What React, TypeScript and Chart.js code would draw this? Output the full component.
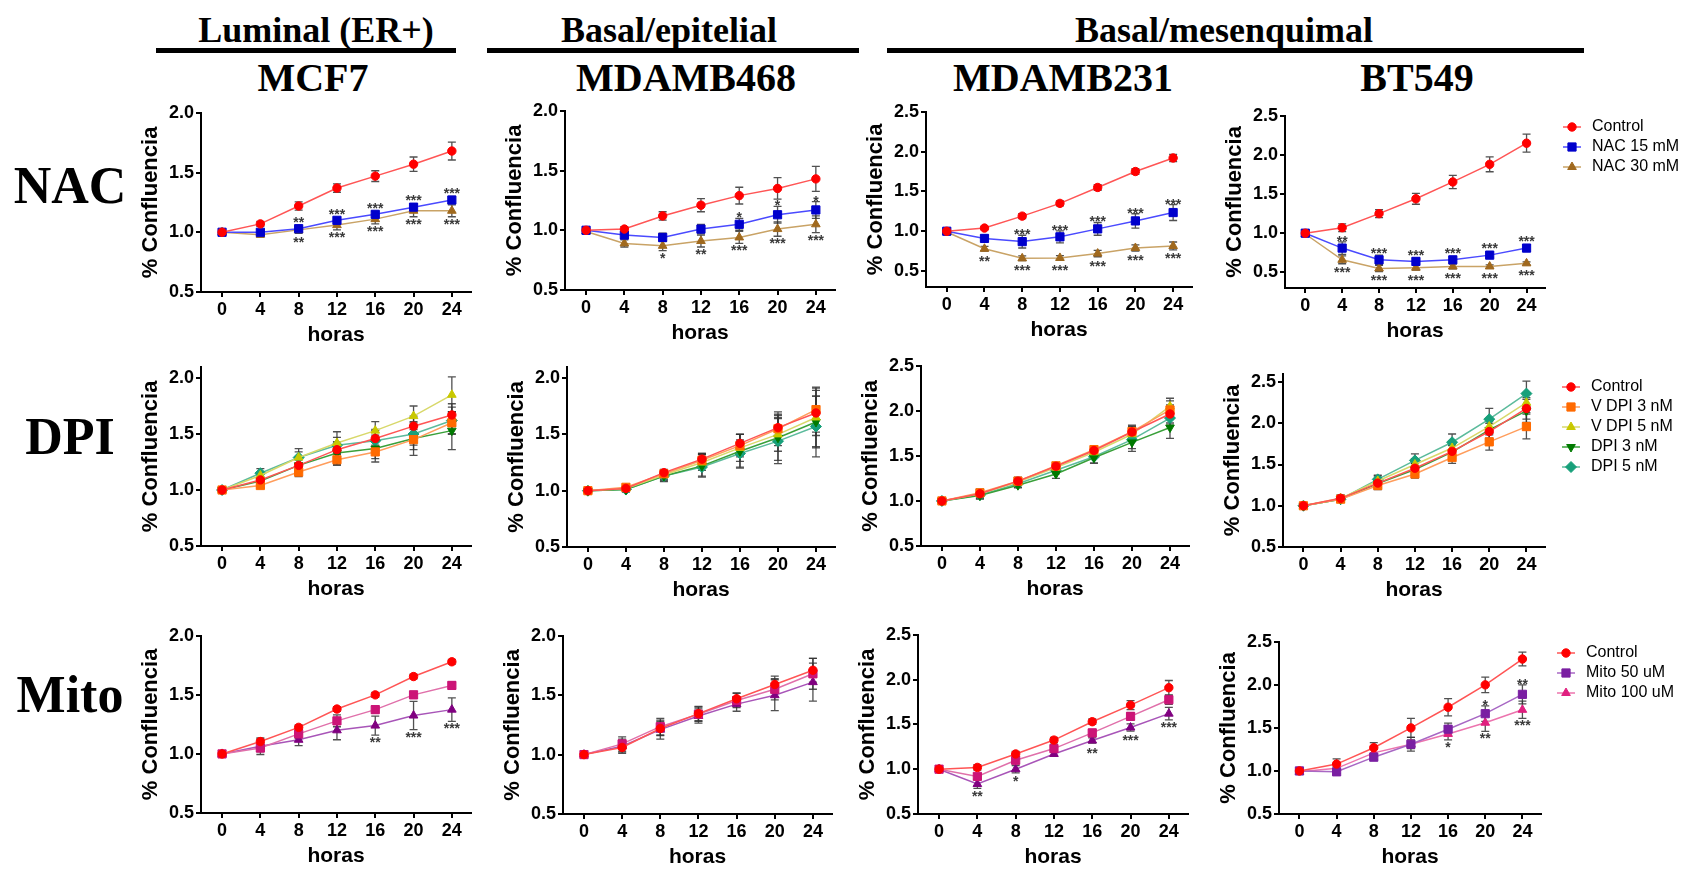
import React, { useEffect, useRef } from 'react';
import { Chart, registerables } from 'chart.js';
import { drawPoint } from 'chart.js/helpers';

Chart.register(...registerables);

// ---------- shared categories / labels ----------
const hours = [0, 4, 8, 12, 16, 20, 24];
const groupTitles = ['Luminal (ER+)', 'Basal/epitelial', 'Basal/mesenquimal'];
const cellLines = ['MCF7', 'MDAMB468', 'MDAMB231', 'BT549'];
const rowLabels = ['NAC', 'DPI', 'Mito'];
const ticks20 = [0.5, 1.0, 1.5, 2.0];
const ticks25 = [0.5, 1.0, 1.5, 2.0, 2.5];
const nacLabels = ['Control', 'NAC 15 mM', 'NAC 30 mM'];
const dpiLabels = ['Control', 'V DPI 3 nM', 'V DPI 5 nM', 'DPI 3 nM', 'DPI 5 nM'];
const mitoLabels = ['Control', 'Mito 50 uM', 'Mito 100 uM'];

// ---------- NAC row ----------
const mcf7NacCtrl = [1.0, 1.07, 1.22, 1.37, 1.47, 1.57, 1.68];
const mcf7NacCtrlErr = [0.01, 0.02, 0.035, 0.035, 0.045, 0.06, 0.075];
const mcf7Nac15 = [1.0, 1.0, 1.03, 1.1, 1.15, 1.21, 1.27];
const mcf7Nac15Err = [0.01, 0.02, 0.02, 0.025, 0.025, 0.03, 0.03];
const mcf7Nac30 = [1.0, 0.98, 1.02, 1.06, 1.11, 1.18, 1.18];
const mcf7Nac30Err = [0.01, 0.02, 0.03, 0.04, 0.04, 0.05, 0.05];
const mcf7Nac15Sig = ['', '', '**', '***', '***', '***', '***'];
const mcf7Nac30Sig = ['', '', '**', '***', '***', '***', '***'];

const m468NacCtrl = [1.0, 1.01, 1.12, 1.21, 1.29, 1.35, 1.43];
const m468NacCtrlErr = [0.01, 0.02, 0.035, 0.055, 0.07, 0.09, 0.105];
const m468Nac15 = [1.0, 0.96, 0.94, 1.01, 1.05, 1.13, 1.17];
const m468Nac15Err = [0.01, 0.03, 0.035, 0.04, 0.05, 0.07, 0.07];
const m468Nac30 = [0.99, 0.89, 0.87, 0.91, 0.94, 1.01, 1.05];
const m468Nac30Err = [0.01, 0.03, 0.04, 0.05, 0.05, 0.06, 0.07];
const m468Nac15Sig = ['', '', '', '', '*', '*', '*'];
const m468Nac30Sig = ['', '', '*', '**', '***', '***', '***'];

const m231NacCtrl = [1.0, 1.04, 1.19, 1.35, 1.55, 1.75, 1.92];
const m231NacCtrlErr = [0.01, 0.02, 0.03, 0.03, 0.035, 0.035, 0.045];
const m231Nac15 = [1.0, 0.91, 0.87, 0.93, 1.03, 1.13, 1.235];
const m231Nac15Err = [0.01, 0.04, 0.08, 0.075, 0.08, 0.09, 0.1];
const m231Nac30 = [0.99, 0.78, 0.66, 0.665, 0.72, 0.79, 0.815];
const m231Nac30Err = [0.01, 0.03, 0.03, 0.03, 0.04, 0.04, 0.05];
const m231Nac15Sig = ['', '', '***', '***', '***', '***', '***'];
const m231Nac30Sig = ['', '**', '***', '***', '***', '***', '***'];

const bt549NacCtrl = [1.0, 1.07, 1.25, 1.44, 1.655, 1.88, 2.15];
const bt549NacCtrlErr = [0.01, 0.05, 0.05, 0.07, 0.085, 0.095, 0.115];
const bt549Nac15 = [1.0, 0.81, 0.66, 0.64, 0.66, 0.72, 0.81];
const bt549Nac15Err = [0.01, 0.08, 0.06, 0.04, 0.04, 0.03, 0.04];
const bt549Nac30 = [0.99, 0.66, 0.55, 0.56, 0.575, 0.575, 0.615];
const bt549Nac30Err = [0.01, 0.05, 0.04, 0.03, 0.03, 0.02, 0.02];
const bt549Nac15Sig = ['', '**', '***', '***', '***', '***', '***'];
const bt549Nac30Sig = ['', '***', '***', '***', '***', '***', '***'];

// ---------- DPI row ----------
const mcf7DpiCtrl = [1.0, 1.09, 1.22, 1.36, 1.46, 1.57, 1.67];
const mcf7DpiCtrlErr = [0.02, 0.03, 0.06, 0.07, 0.08, 0.09, 0.1];
const mcf7DpiV3 = [1.0, 1.04, 1.16, 1.27, 1.34, 1.45, 1.6];
const mcf7DpiV3Err = [0.02, 0.02, 0.04, 0.05, 0.06, 0.09, 0.1];
const mcf7DpiV5 = [1.0, 1.13, 1.29, 1.42, 1.53, 1.66, 1.85];
const mcf7DpiV5Err = [0.02, 0.03, 0.08, 0.1, 0.08, 0.09, 0.16];
const mcf7Dpi3 = [1.0, 1.08, 1.22, 1.33, 1.37, 1.46, 1.53];
const mcf7Dpi3Err = [0.02, 0.03, 0.05, 0.1, 0.12, 0.15, 0.17];
const mcf7Dpi5 = [1.0, 1.15, 1.29, 1.4, 1.44, 1.5, 1.62];
const mcf7Dpi5Err = [0.02, 0.04, 0.05, 0.07, 0.09, 0.1, 0.12];

const m468DpiCtrl = [1.0, 1.02, 1.16, 1.28, 1.42, 1.56, 1.69];
const m468DpiCtrlErr = [0.02, 0.02, 0.03, 0.05, 0.08, 0.12, 0.2];
const m468DpiV3 = [1.0, 1.03, 1.15, 1.27, 1.4, 1.55, 1.72];
const m468DpiV3Err = [0.02, 0.02, 0.03, 0.06, 0.1, 0.15, 0.2];
const m468DpiV5 = [1.0, 1.02, 1.14, 1.25, 1.38, 1.5, 1.65];
const m468DpiV5Err = [0.02, 0.02, 0.04, 0.07, 0.12, 0.15, 0.26];
const m468Dpi3 = [1.0, 1.01, 1.13, 1.22, 1.35, 1.47, 1.61];
const m468Dpi3Err = [0.02, 0.02, 0.05, 0.1, 0.15, 0.2, 0.23];
const m468Dpi5 = [1.0, 1.01, 1.13, 1.21, 1.33, 1.44, 1.57];
const m468Dpi5Err = [0.02, 0.02, 0.04, 0.08, 0.12, 0.2, 0.27];

const m231DpiCtrl = [1.0, 1.08, 1.22, 1.385, 1.56, 1.765, 1.965];
const m231DpiCtrlErr = [0.02, 0.04, 0.04, 0.03, 0.04, 0.06, 0.1];
const m231DpiV3 = [1.0, 1.09, 1.22, 1.39, 1.57, 1.77, 2.01];
const m231DpiV3Err = [0.02, 0.04, 0.04, 0.03, 0.04, 0.07, 0.1];
const m231DpiV5 = [1.0, 1.08, 1.21, 1.37, 1.54, 1.74, 2.05];
const m231DpiV5Err = [0.02, 0.03, 0.04, 0.03, 0.05, 0.08, 0.09];
const m231Dpi3 = [1.0, 1.06, 1.175, 1.3, 1.48, 1.65, 1.815];
const m231Dpi3Err = [0.02, 0.04, 0.03, 0.05, 0.06, 0.1, 0.12];
const m231Dpi5 = [1.0, 1.065, 1.19, 1.34, 1.49, 1.68, 1.92];
const m231Dpi5Err = [0.02, 0.04, 0.04, 0.04, 0.07, 0.1, 0.08];

const bt549DpiCtrl = [1.0, 1.09, 1.275, 1.455, 1.66, 1.9, 2.18];
const bt549DpiCtrlErr = [0.02, 0.04, 0.05, 0.06, 0.08, 0.1, 0.13];
const bt549DpiV3 = [1.0, 1.08, 1.245, 1.385, 1.585, 1.775, 1.96];
const bt549DpiV3Err = [0.02, 0.03, 0.05, 0.05, 0.07, 0.1, 0.15];
const bt549DpiV5 = [1.0, 1.09, 1.3, 1.5, 1.7, 1.96, 2.25];
const bt549DpiV5Err = [0.02, 0.04, 0.06, 0.07, 0.08, 0.1, 0.12];
const bt549Dpi3 = [1.0, 1.08, 1.27, 1.44, 1.65, 1.92, 2.15];
const bt549Dpi3Err = [0.02, 0.04, 0.05, 0.07, 0.08, 0.1, 0.14];
const bt549Dpi5 = [1.0, 1.08, 1.32, 1.55, 1.77, 2.05, 2.36];
const bt549Dpi5Err = [0.02, 0.04, 0.05, 0.08, 0.1, 0.13, 0.15];

// ---------- Mito row ----------
const mcf7MitoCtrl = [1.0, 1.105, 1.225, 1.38, 1.5, 1.655, 1.78];
const mcf7MitoCtrlErr = [0.01, 0.02, 0.02, 0.02, 0.02, 0.02, 0.02];
const mcf7Mito50 = [1.0, 1.05, 1.17, 1.28, 1.375, 1.5, 1.58];
const mcf7Mito50Err = [0.01, 0.03, 0.04, 0.05, 0.03, 0.03, 0.03];
const mcf7Mito100 = [1.0, 1.065, 1.12, 1.2, 1.24, 1.325, 1.375];
const mcf7Mito100Err = [0.01, 0.07, 0.05, 0.08, 0.08, 0.12, 0.1];
const mcf7Mito100Sig = ['', '', '', '', '**', '***', '***'];

const m468MitoCtrl = [1.0, 1.06, 1.22, 1.345, 1.47, 1.59, 1.71];
const m468MitoCtrlErr = [0.01, 0.04, 0.06, 0.06, 0.05, 0.07, 0.1];
const m468Mito50 = [1.0, 1.09, 1.235, 1.34, 1.455, 1.55, 1.68];
const m468Mito50Err = [0.01, 0.06, 0.07, 0.06, 0.06, 0.09, 0.13];
const m468Mito100 = [1.0, 1.07, 1.21, 1.325, 1.425, 1.5, 1.61];
const m468Mito100Err = [0.01, 0.06, 0.08, 0.06, 0.06, 0.13, 0.16];

const m231MitoCtrl = [1.0, 1.02, 1.17, 1.325, 1.53, 1.715, 1.91];
const m231MitoCtrlErr = [0.01, 0.03, 0.03, 0.03, 0.03, 0.05, 0.08];
const m231Mito50 = [1.0, 0.92, 1.1, 1.23, 1.405, 1.59, 1.775];
const m231Mito50Err = [0.01, 0.03, 0.04, 0.03, 0.04, 0.04, 0.05];
const m231Mito100 = [1.0, 0.835, 1.0, 1.17, 1.32, 1.465, 1.62];
const m231Mito100Err = [0.01, 0.05, 0.04, 0.02, 0.03, 0.04, 0.07];
const m231Mito100Sig = ['', '**', '*', '', '**', '***', '***'];

const bt549MitoCtrl = [1.0, 1.08, 1.27, 1.5, 1.74, 2.0, 2.3];
const bt549MitoCtrlErr = [0.01, 0.06, 0.06, 0.11, 0.1, 0.09, 0.08];
const bt549Mito50 = [1.0, 0.99, 1.16, 1.31, 1.485, 1.665, 1.89];
const bt549Mito50Err = [0.02, 0.02, 0.03, 0.05, 0.07, 0.09, 0.11];
const bt549Mito100 = [0.99, 1.03, 1.21, 1.31, 1.43, 1.56, 1.71];
const bt549Mito100Err = [0.02, 0.02, 0.04, 0.08, 0.07, 0.1, 0.1];
const bt549Mito50Sig = ['', '', '', '', '', '*', '**'];
const bt549Mito100Sig = ['', '', '', '', '*', '**', '***'];

// ---------- styles ----------
type Style = { color: string; line: string; shape: string; radius: number; rotation?: number };
const stCtrl: Style = { color: '#ff0000', line: '#ff5555', shape: 'circle', radius: 4.2 };
const stNac15: Style = { color: '#0000cc', line: '#4a4aff', shape: 'rect', radius: 5.8 };
const stNac30: Style = { color: '#a0691e', line: '#c9a366', shape: 'triangle', radius: 5 };
const stV3: Style = { color: '#ff6a00', line: '#ff9d5c', shape: 'rect', radius: 5.8 };
const stV5: Style = { color: '#c8c800', line: '#d8d86a', shape: 'triangle', radius: 5 };
const stD3: Style = { color: '#007a00', line: '#3aa03a', shape: 'triangle', radius: 5, rotation: 180 };
const stD5: Style = { color: '#17a07a', line: '#5cbb9c', shape: 'rectRot', radius: 5.5 };
const stM50a: Style = { color: '#cc1477', line: '#e070aa', shape: 'rect', radius: 5.8 };
const stM100a: Style = { color: '#800080', line: '#a855b8', shape: 'triangle', radius: 5 };
const stM50b: Style = { color: '#7a1fa2', line: '#a868c4', shape: 'rect', radius: 5.8 };
const stM100b: Style = { color: '#e0207f', line: '#ec74ae', shape: 'triangle', radius: 5 };

type Series = Style & { label: string; data: number[]; err: number[]; sig?: string[]; sigPos?: 'above' | 'below' };
type PanelDef = {
  L: number; R: number; topPx: number; botPx: number;
  yMin: number; yMax: number; yTicks: number[];
  series: Series[]; legend?: { x: number; y: number };
};

const S = (st: Style, label: string, data: number[], err: number[], sig?: string[], sigPos?: 'above' | 'below'): Series =>
  ({ ...st, label, data, err, sig, sigPos });

const panels: PanelDef[] = [
  // NAC row
  { L: 201, R: 471, topPx: 112, botPx: 292, yMin: 0.5, yMax: 2.0, yTicks: ticks20, series: [
    S(stCtrl, nacLabels[0], mcf7NacCtrl, mcf7NacCtrlErr),
    S(stNac15, nacLabels[1], mcf7Nac15, mcf7Nac15Err, mcf7Nac15Sig, 'above'),
    S(stNac30, nacLabels[2], mcf7Nac30, mcf7Nac30Err, mcf7Nac30Sig, 'below')] },
  { L: 565, R: 835, topPx: 110, botPx: 290, yMin: 0.5, yMax: 2.0, yTicks: ticks20, series: [
    S(stCtrl, nacLabels[0], m468NacCtrl, m468NacCtrlErr),
    S(stNac15, nacLabels[1], m468Nac15, m468Nac15Err, m468Nac15Sig, 'above'),
    S(stNac30, nacLabels[2], m468Nac30, m468Nac30Err, m468Nac30Sig, 'below')] },
  { L: 926, R: 1192, topPx: 111, botPx: 287, yMin: 0.3, yMax: 2.5, yTicks: ticks25, series: [
    S(stCtrl, nacLabels[0], m231NacCtrl, m231NacCtrlErr),
    S(stNac15, nacLabels[1], m231Nac15, m231Nac15Err, m231Nac15Sig, 'above'),
    S(stNac30, nacLabels[2], m231Nac30, m231Nac30Err, m231Nac30Sig, 'below')] },
  { L: 1285, R: 1545, topPx: 115, botPx: 288, yMin: 0.3, yMax: 2.5, yTicks: ticks25, legend: { x: 1572, y: 127 }, series: [
    S(stCtrl, nacLabels[0], bt549NacCtrl, bt549NacCtrlErr),
    S(stNac15, nacLabels[1], bt549Nac15, bt549Nac15Err, bt549Nac15Sig, 'above'),
    S(stNac30, nacLabels[2], bt549Nac30, bt549Nac30Err, bt549Nac30Sig, 'below')] },
  // DPI row
  { L: 201, R: 471, topPx: 366, botPx: 546, yMin: 0.5, yMax: 2.1, yTicks: ticks20, series: [
    S(stCtrl, dpiLabels[0], mcf7DpiCtrl, mcf7DpiCtrlErr),
    S(stV3, dpiLabels[1], mcf7DpiV3, mcf7DpiV3Err),
    S(stV5, dpiLabels[2], mcf7DpiV5, mcf7DpiV5Err),
    S(stD3, dpiLabels[3], mcf7Dpi3, mcf7Dpi3Err),
    S(stD5, dpiLabels[4], mcf7Dpi5, mcf7Dpi5Err)] },
  { L: 567, R: 835, topPx: 366, botPx: 547, yMin: 0.5, yMax: 2.1, yTicks: ticks20, series: [
    S(stCtrl, dpiLabels[0], m468DpiCtrl, m468DpiCtrlErr),
    S(stV3, dpiLabels[1], m468DpiV3, m468DpiV3Err),
    S(stV5, dpiLabels[2], m468DpiV5, m468DpiV5Err),
    S(stD3, dpiLabels[3], m468Dpi3, m468Dpi3Err),
    S(stD5, dpiLabels[4], m468Dpi5, m468Dpi5Err)] },
  { L: 921, R: 1189, topPx: 365, botPx: 546, yMin: 0.5, yMax: 2.5, yTicks: ticks25, series: [
    S(stCtrl, dpiLabels[0], m231DpiCtrl, m231DpiCtrlErr),
    S(stV3, dpiLabels[1], m231DpiV3, m231DpiV3Err),
    S(stV5, dpiLabels[2], m231DpiV5, m231DpiV5Err),
    S(stD3, dpiLabels[3], m231Dpi3, m231Dpi3Err),
    S(stD5, dpiLabels[4], m231Dpi5, m231Dpi5Err)] },
  { L: 1283, R: 1545, topPx: 373, botPx: 547, yMin: 0.5, yMax: 2.6, yTicks: ticks25, legend: { x: 1571, y: 387 }, series: [
    S(stCtrl, dpiLabels[0], bt549DpiCtrl, bt549DpiCtrlErr),
    S(stV3, dpiLabels[1], bt549DpiV3, bt549DpiV3Err),
    S(stV5, dpiLabels[2], bt549DpiV5, bt549DpiV5Err),
    S(stD3, dpiLabels[3], bt549Dpi3, bt549Dpi3Err),
    S(stD5, dpiLabels[4], bt549Dpi5, bt549Dpi5Err)] },
  // Mito row
  { L: 201, R: 471, topPx: 635, botPx: 813, yMin: 0.5, yMax: 2.0, yTicks: ticks20, series: [
    S(stCtrl, mitoLabels[0], mcf7MitoCtrl, mcf7MitoCtrlErr),
    S(stM50a, mitoLabels[1], mcf7Mito50, mcf7Mito50Err),
    S(stM100a, mitoLabels[2], mcf7Mito100, mcf7Mito100Err, mcf7Mito100Sig, 'below')] },
  { L: 563, R: 832, topPx: 635, botPx: 814, yMin: 0.5, yMax: 2.0, yTicks: ticks20, series: [
    S(stCtrl, mitoLabels[0], m468MitoCtrl, m468MitoCtrlErr),
    S(stM50a, mitoLabels[1], m468Mito50, m468Mito50Err),
    S(stM100a, mitoLabels[2], m468Mito100, m468Mito100Err)] },
  { L: 918, R: 1188, topPx: 634, botPx: 814, yMin: 0.5, yMax: 2.5, yTicks: ticks25, series: [
    S(stCtrl, mitoLabels[0], m231MitoCtrl, m231MitoCtrlErr),
    S(stM50a, mitoLabels[1], m231Mito50, m231Mito50Err),
    S(stM100a, mitoLabels[2], m231Mito100, m231Mito100Err, m231Mito100Sig, 'below')] },
  { L: 1279, R: 1541, topPx: 641, botPx: 814, yMin: 0.5, yMax: 2.5, yTicks: ticks25, legend: { x: 1566, y: 653 }, series: [
    S(stCtrl, mitoLabels[0], bt549MitoCtrl, bt549MitoCtrlErr),
    S(stM50b, mitoLabels[1], bt549Mito50, bt549Mito50Err, bt549Mito50Sig, 'above'),
    S(stM100b, mitoLabels[2], bt549Mito100, bt549Mito100Err, bt549Mito100Sig, 'below')] },
];

const SANS = '"Liberation Sans", Arial, Helvetica, sans-serif';
const SERIF = '"Liberation Serif", "Times New Roman", Times, serif';
const PAGE_W = 1682;
const Y_W = 66;
const X_H = 56;
const PAD_T = 12;

Chart.defaults.font.family = SANS;

function Panel({ def }: { def: PanelDef }) {
  const ref = useRef<HTMLCanvasElement | null>(null);
  const padR = def.legend ? PAGE_W - def.R - 1 : 12;
  const width = Y_W + (def.R - def.L) + padR;
  const height = PAD_T + (def.botPx - def.topPx) + X_H;
  const left = def.L - Y_W;
  const top = def.topPx - PAD_T;

  useEffect(() => {
    if (!ref.current) return;
    const extras = {
      id: 'panelExtras',
      beforeDatasetsDraw(chart: any) {
        const { ctx } = chart;
        const xs = chart.scales.x;
        const ys = chart.scales.y;
        ctx.save();
        ctx.strokeStyle = 'rgba(50,50,50,0.85)';
        ctx.lineWidth = 1.3;
        def.series.forEach((s) => {
          s.data.forEach((v, i) => {
            const e = s.err[i];
            if (!e) return;
            const px = xs.getPixelForValue(hours[i]);
            const yt = ys.getPixelForValue(v + e);
            const yb = ys.getPixelForValue(v - e);
            ctx.beginPath();
            ctx.moveTo(px, yt); ctx.lineTo(px, yb);
            ctx.moveTo(px - 4, yt); ctx.lineTo(px + 4, yt);
            ctx.moveTo(px - 4, yb); ctx.lineTo(px + 4, yb);
            ctx.stroke();
          });
        });
        ctx.restore();
      },
      afterDatasetsDraw(chart: any) {
        const { ctx } = chart;
        const xs = chart.scales.x;
        const ys = chart.scales.y;
        ctx.save();
        ctx.font = `bold 14px ${SANS}`;
        ctx.fillStyle = '#3a3a3a';
        ctx.textAlign = 'center';
        ctx.textBaseline = 'alphabetic';
        def.series.forEach((s) => {
          if (!s.sig) return;
          s.sig.forEach((txt, i) => {
            if (!txt) return;
            const v = s.data[i];
            const e = s.err[i];
            const px = xs.getPixelForValue(hours[i]);
            const py = ys.getPixelForValue(v);
            if (s.sigPos === 'above') {
              const t = Math.min(ys.getPixelForValue(v + e), py - s.radius);
              ctx.fillText(txt, px, t + 4);
            } else {
              const b = Math.max(ys.getPixelForValue(v - e), py + s.radius);
              ctx.fillText(txt, px, b + 12);
            }
          });
        });
        ctx.restore();
      },
      afterDraw(chart: any) {
        if (!def.legend) return;
        const { ctx } = chart;
        ctx.save();
        def.series.forEach((s, i) => {
          const lx = def.legend!.x - left;
          const ly = def.legend!.y - top + i * 20;
          ctx.strokeStyle = s.line;
          ctx.lineWidth = 1.5;
          ctx.beginPath();
          ctx.moveTo(lx - 9, ly); ctx.lineTo(lx + 9, ly);
          ctx.stroke();
          ctx.fillStyle = s.color;
          ctx.strokeStyle = s.color;
          ctx.lineWidth = 1;
          drawPoint(ctx, { pointStyle: s.shape as any, radius: s.radius, rotation: s.rotation || 0, borderWidth: 1 }, lx, ly);
          ctx.fillStyle = '#000';
          ctx.font = `16px ${SANS}`;
          ctx.textAlign = 'left';
          ctx.textBaseline = 'middle';
          ctx.fillText(s.label, lx + 20, ly);
        });
        ctx.restore();
      },
    };

    const axisGrid = { display: true, drawOnChartArea: false, drawTicks: true, tickLength: 5, color: '#000', lineWidth: 2 };
    const axisBorder = { display: true, color: '#000', width: 2 };

    const chart = new Chart(ref.current, {
      type: 'line',
      data: {
        datasets: def.series.map((s) => ({
          label: s.label,
          data: hours.map((h, i) => ({ x: h, y: s.data[i] })),
          borderColor: s.line,
          backgroundColor: s.color,
          pointBackgroundColor: s.color,
          pointBorderColor: s.color,
          pointBorderWidth: 1,
          pointStyle: s.shape as any,
          pointRadius: s.radius,
          pointRotation: s.rotation || 0,
          borderWidth: 1.5,
          tension: 0,
          fill: false,
        })),
      },
      options: {
        animation: false,
        responsive: false,
        events: [],
        layout: { padding: { top: PAD_T, right: padR, left: 0, bottom: 0 } },
        plugins: { legend: { display: false }, tooltip: { enabled: false } },
        scales: {
          x: {
            type: 'linear',
            min: -2.2,
            max: 26,
            afterBuildTicks: (s: any) => { s.ticks = hours.map((v) => ({ value: v })); },
            afterFit: (s: any) => { s.height = X_H; },
            ticks: { font: { size: 18, weight: 'bold' }, color: '#000', padding: 2, maxRotation: 0, autoSkip: false, callback: (v: any) => String(v) },
            grid: axisGrid,
            border: axisBorder,
            title: { display: true, text: 'horas', font: { size: 21, weight: 'bold' }, color: '#000', padding: 0 },
          },
          y: {
            type: 'linear',
            min: def.yMin,
            max: def.yMax,
            afterBuildTicks: (s: any) => { s.ticks = def.yTicks.map((v) => ({ value: v })); },
            afterFit: (s: any) => { s.width = Y_W; },
            ticks: { font: { size: 18, weight: 'bold' }, color: '#000', padding: 2, autoSkip: false, callback: (v: any) => Number(v).toFixed(1) },
            grid: axisGrid,
            border: axisBorder,
            title: { display: true, text: '% Confluencia', font: { size: 22, weight: 'bold' }, color: '#000', padding: { top: 3, bottom: 0 } },
          },
        },
      } as any,
      plugins: [extras],
    });
    return () => chart.destroy();
  }, []);

  return (
    <canvas
      ref={ref}
      width={width}
      height={height}
      style={{ position: 'absolute', left, top, width, height }}
    />
  );
}

const groupPos = [
  { cx: 316, x1: 156, x2: 456 },
  { cx: 669, x1: 487, x2: 859 },
  { cx: 1224, x1: 887, x2: 1584 },
];
const cellPos = [313, 686, 1063, 1417];
const rowPos = [186, 437, 695];

export default function App() {
  return (
    <div style={{ position: 'absolute', left: 0, top: 0, width: PAGE_W, height: 869, background: '#fff', overflow: 'hidden' }}>
      {groupTitles.map((t, i) => (
        <React.Fragment key={t}>
          <div style={{ position: 'absolute', left: groupPos[i].cx - 250, top: 30 - 18, width: 500, textAlign: 'center', font: `bold 36px/36px ${SERIF}`, color: '#000', whiteSpace: 'nowrap' }}>{t}</div>
          <div style={{ position: 'absolute', left: groupPos[i].x1, top: 48, width: groupPos[i].x2 - groupPos[i].x1, height: 5, background: '#000' }} />
        </React.Fragment>
      ))}
      {cellLines.map((t, i) => (
        <div key={t} style={{ position: 'absolute', left: cellPos[i] - 200, top: 78 - 20, width: 400, textAlign: 'center', font: `bold 40px/40px ${SERIF}`, color: '#000', whiteSpace: 'nowrap' }}>{t}</div>
      ))}
      {rowLabels.map((t, i) => (
        <div key={t} style={{ position: 'absolute', left: 70 - 80, top: rowPos[i] - 26, width: 160, textAlign: 'center', font: `bold 52px/52px ${SERIF}`, color: '#000', whiteSpace: 'nowrap' }}>{t}</div>
      ))}
      {panels.map((p, i) => (
        <Panel key={i} def={p} />
      ))}
    </div>
  );
}
